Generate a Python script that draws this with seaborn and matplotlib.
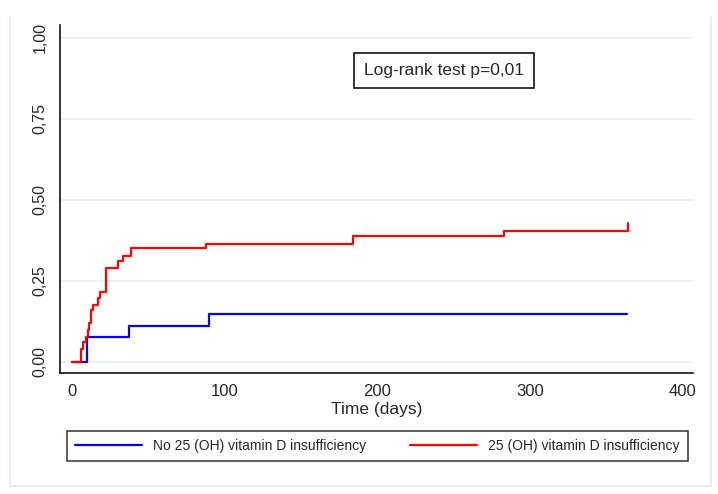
import matplotlib
matplotlib.use('Agg')
import matplotlib.pyplot as plt
from matplotlib.lines import Line2D
import pandas as pd
import seaborn as sns

# group names (legend order)
groups = ['No 25 (OH) vitamin D insufficiency', '25 (OH) vitamin D insufficiency']

# cumulative failure
days_no = [0, 9.6, 37.3, 89.5, 364]
fail_no = [0.0, 0.077, 0.110, 0.147, 0.147]

days_ins = [0, 5.9, 7.4, 9.2, 10.2, 11.3, 12.2, 13.9, 16.6, 17.9,
            22.2, 30.3, 33.6, 38.3, 88.0, 184.3, 283.0, 364.2]
fail_ins = [0.0, 0.038, 0.061, 0.077, 0.098, 0.120, 0.160, 0.175, 0.196, 0.214,
            0.290, 0.312, 0.328, 0.350, 0.365, 0.389, 0.403, 0.427]

x_ticks = [0, 100, 200, 300, 400]
y_ticks = [0.0, 0.25, 0.50, 0.75, 1.00]
y_labels = ['0,00', '0,25', '0,50', '0,75', '1,00']

colors = ['#0000ff', '#ff0000']

df = pd.concat([
    pd.DataFrame({'Time': days_no, 'Failure': fail_no, 'Group': groups[0]}),
    pd.DataFrame({'Time': days_ins, 'Failure': fail_ins, 'Group': groups[1]}),
])

sns.set_style('white')
plt.rcParams['font.family'] = ['Liberation Sans', 'DejaVu Sans']

fig = plt.figure(figsize=(7.18, 4.94), dpi=100)
ax = fig.add_axes([60 / 718, 1 - 372.7 / 494, 633 / 718, 347.7 / 494])

# light horizontal grid
for yv in y_ticks:
    ax.axhline(yv, color='#e9f1f3', lw=1.2, zorder=0)

sns.lineplot(data=df, x='Time', y='Failure', hue='Group', hue_order=groups,
             palette=colors, drawstyle='steps-post', estimator=None, sort=False,
             lw=1.6, legend=False, ax=ax)

ax.set_xlim(-8, 407)
ax.set_ylim(-0.034, 1.04)
ax.set_xticks(x_ticks)
ax.set_xticklabels([str(v) for v in x_ticks], fontsize=12)
ax.set_yticks(y_ticks)
ax.set_yticklabels(y_labels, fontsize=11.5, rotation=90, va='center')
ax.tick_params(axis='both', direction='out', length=5, width=1.0, color='black')
ax.tick_params(axis='y', pad=4)
ax.tick_params(axis='x', pad=3)
ax.set_xlabel('Time (days)', fontsize=12.5, labelpad=2)
ax.set_ylabel('')

for side in ['top', 'right']:
    ax.spines[side].set_visible(False)
for side in ['left', 'bottom']:
    ax.spines[side].set_color('black')
    ax.spines[side].set_linewidth(1.1)

# log-rank annotation
fig.text(444 / 718, 1 - 70.5 / 494, 'Log-rank test p=0,01', fontsize=12.5,
         ha='center', va='center',
         bbox=dict(boxstyle='square,pad=0.6', fc='white', ec='black', lw=1.1))

# legend below the plot
handles = [Line2D([0], [0], color=c, lw=1.6) for c in colors]
leg = fig.legend(handles, groups, loc='center', ncol=2, mode='expand',
                 bbox_to_anchor=(67 / 718, 1 - 463 / 494, 621 / 718, 34 / 494),
                 fontsize=10, frameon=True, fancybox=False, handlelength=4.8,
                 borderaxespad=0, handletextpad=0.8, borderpad=0.6)
leg.get_frame().set_edgecolor('black')
leg.get_frame().set_linewidth(1.1)

# faint outer frame
frame_c = '#e6eef0'
fig.add_artist(Line2D([10 / 718, 10 / 718], [1 - 17 / 494, 1 - 486 / 494], color=frame_c, lw=1.5))
fig.add_artist(Line2D([711 / 718, 711 / 718], [1 - 17 / 494, 1 - 486 / 494], color=frame_c, lw=1.5))
fig.add_artist(Line2D([10 / 718, 711 / 718], [1 - 486 / 494, 1 - 486 / 494], color=frame_c, lw=1.5))

fig.savefig('out.png', dpi=100)
